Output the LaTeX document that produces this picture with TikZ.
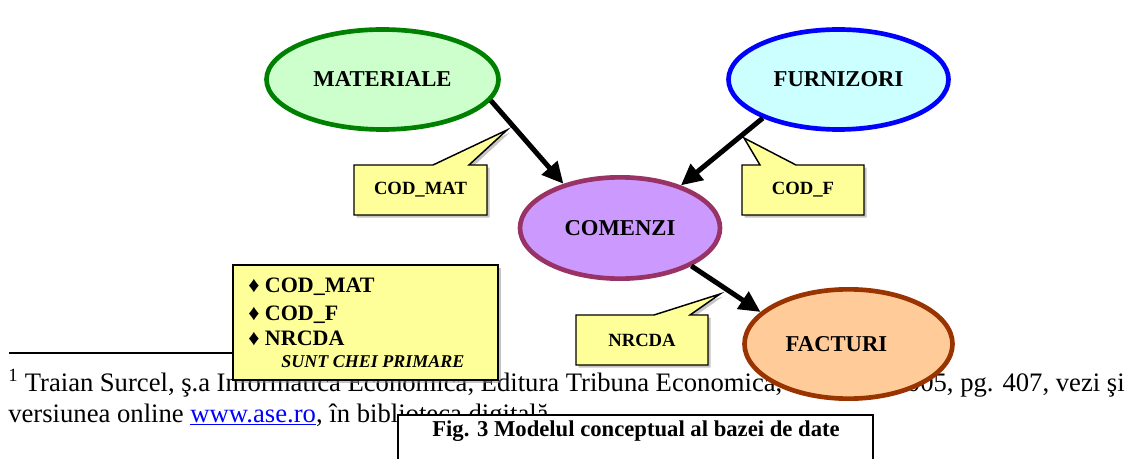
\documentclass[tikz,border=0pt]{standalone}
\usepackage{fontspec}
\setmainfont{Liberation Serif}
\usetikzlibrary{shapes.geometric,shapes.callouts,arrows.meta,shadows}
\definecolor{matfill}{HTML}{CCFFCC}
\definecolor{matline}{HTML}{008000}
\definecolor{furfill}{HTML}{CCFFFF}
\definecolor{furline}{HTML}{0000FF}
\definecolor{comfill}{HTML}{CC99FF}
\definecolor{comline}{HTML}{993366}
\definecolor{facfill}{HTML}{FFCC99}
\definecolor{facline}{HTML}{993300}
\definecolor{notefill}{HTML}{FFFF99}
\definecolor{linkblue}{HTML}{0000FF}
\tikzset{
  entity/.style={ellipse, line width=3.5pt, inner sep=0pt,
    font=\fontsize{17}{20}\selectfont\bfseries},
  keynote/.style={rectangle callout, draw=black, line width=1.1pt, fill=notefill,
    callout pointer width=27pt, minimum height=37.5pt, inner sep=0pt,
    font=\fontsize{14}{16}\selectfont\bfseries,
    drop shadow={shadow xshift=2pt, shadow yshift=-2pt, fill=black!45}},
  keyline/.style={anchor=base west, inner sep=0pt,
    font=\fontsize{16.5}{20}\selectfont\bfseries},
  fntext/.style={inner sep=0pt, font=\fontsize{20}{30}\selectfont},
  link/.style={line width=3.75pt, -{Triangle[length=16pt,width=15pt]}},
}
\begin{document}
\begin{tikzpicture}[x=0.75pt, y=-0.75pt]
\useasboundingbox (0,0) rectangle (1131,459);
\fill[white] (0,0) rectangle (1131,459);

% footnote of the page
\draw[line width=1.1pt] (9,353) coordinate (rulea) -- (300,353) coordinate (ruleb);
\node (fna) [fntext, anchor=base west] at (8,392)
  {\makebox[580.5pt][s]{\textsuperscript{1} Traian Surcel, ş.a Informatica Economica, Editura Tribuna Economica,}};
\node (fnb) [fntext, anchor=base east] at (1125,392) {2005, pg. 407, vezi şi};
\node (fnc) [fntext, anchor=base west] at (8,422)
  {versiunea online \textcolor{linkblue}{\underline{www.ase.ro}}, în biblioteca digitală};

% entities
\node (mat) [entity, draw=matline, fill=matfill, minimum width=174pt, minimum height=75pt]
  at (382.5,79.5) {MATERIALE};
\node (fur) [entity, draw=furline, fill=furfill, minimum width=165pt, minimum height=75pt]
  at (838.5,79.5) {FURNIZORI};
\node (com) [entity, draw=comline, fill=comfill, minimum width=150pt, minimum height=76pt]
  at (620,228) {COMENZI};
\node (fac) [entity, draw=facline, fill=facfill, minimum width=156pt, minimum height=82pt]
  at (848.5,344) {FACTURI\hspace*{18pt}};

% relations
\draw[link] (mat.-11) -- (com.142);
\draw[link] (fur.207) -- (com.35);
\draw[link] (com.-28) -- (fac.160);

% foreign keys
\node (cmat) [keynote, minimum width=99.75pt, callout absolute pointer={(507,130)}]
  at (420.5,190) {COD\_MAT};
\node (cf) [keynote, minimum width=91.5pt, callout absolute pointer={(744,138)}]
  at (803,190) {COD\_F};
\node (cnr) [keynote, minimum width=99pt, callout absolute pointer={(720,294)}]
  at (642,340) {NRCDA};

% primary keys
\node (keys) [rectangle, draw=black, line width=1.1pt, fill=notefill,
  minimum width=198.75pt, minimum height=86.25pt,
  drop shadow={shadow xshift=2pt, shadow yshift=-2pt, fill=black!45}]
  at (365.5,322.5) {};
\node (k1) [keyline] at (248,293) {♦ COD\_MAT};
\node (k2) [keyline] at (248,321) {♦ COD\_F};
\node (k3) [keyline] at (248,346) {♦ NRCDA};
\node (k4) [anchor=base west, inner sep=0pt,
  font=\fontsize{13.5}{16}\selectfont\bfseries\itshape] at (281,368) {SUNT CHEI PRIMARE};

% caption
\node (capbox) [rectangle, draw=black, line width=1.1pt, fill=white,
  minimum width=356.25pt, minimum height=45pt] at (635.5,445) {};
\node (cap) [anchor=base, inner sep=0pt, font=\fontsize{17}{20}\selectfont\bfseries]
  at (636,436) {Fig. 3 Modelul conceptual al bazei de date};

\end{tikzpicture}
\end{document}
